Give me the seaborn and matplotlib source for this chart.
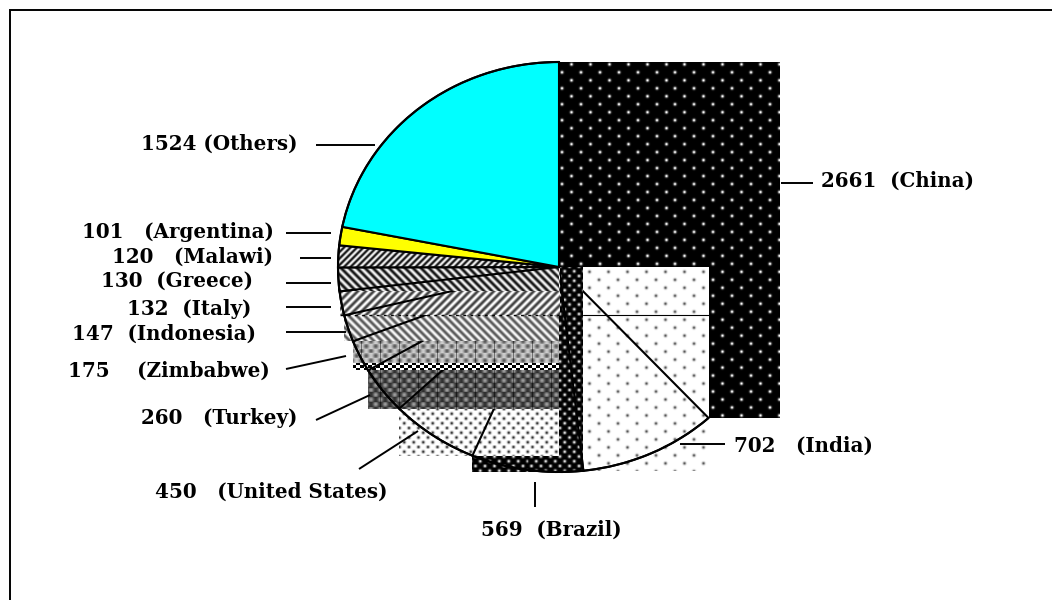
import matplotlib
matplotlib.use("Agg")
import matplotlib.pyplot as plt
from matplotlib.patches import Arc
import numpy as np
import seaborn as sns

# values, clockwise from 12 o'clock
countries = ["China", "India", "Brazil", "United States", "Turkey", "Zimbabwe",
             "Indonesia", "Italy", "Greece", "Malawi", "Argentina", "Others"]
values = [2661, 702, 569, 450, 260, 175, 147, 132, 130, 120, 101, 1524]
gaps = ["  ", "   ", "  ", "   ", "   ", "    ", "  ", "  ", "  ", "   ", "   ", " "]

# kind, base grey, mark grey, period (None = plain slice colour)
fills = [
    ("dots", 0.0, 1.0, 19.0),
    ("dots", 1.0, 0.35, 19.0),
    ("dots", 0.0, 0.9, 9.5),
    ("dots", 1.0, 0.2, 9.5),
    ("grid", 0.17, 0.62, 9.5),
    ("grid", 0.82, 0.35, 9.5),
    ("back", 0.97, 0.35, 8.0),
    ("fwd", 1.0, 0.25, 8.0),
    ("back", 0.95, 0.08, 8.0),
    ("fwd", 0.95, 0.08, 6.5),
    None,
    None,
]
slice_colors = {"Argentina": "#ffff00", "Others": "#00ffff"}

# label left edge / middle, in reference pixels
label_pos = [(821, 181), (734, 446), (481, 530), (155, 492), (141, 418), (68, 371),
             (72, 334), (127, 309), (101, 281), (112, 257), (82, 232), (141, 144)]
leaders = [((781, 183), (813, 183)), ((680, 444), (725, 444)), ((535, 482), (535, 507)),
           ((359, 469), (418, 431)), ((316, 420), (370, 395)), ((286, 369), (346, 356)),
           ((286, 332), (346, 332)), ((286, 307), (331, 307)), ((286, 283), (331, 283)),
           ((300, 258), (331, 258)), ((286, 233), (331, 233)), ((316, 145), (375, 145))]

W, H = 1052, 600
cx, cy, rx, ry = 559, 267, 221, 205


def texture(kind, base, mark, period, xs, ys):
    # old screen-dither look, aligned to the picture's pixels
    x, y = np.meshgrid(xs, ys)
    if kind in ("fwd", "back"):
        sign = 1 if kind == "fwd" else -1
        wave = 0.5 + 0.5 * np.cos(2 * np.pi * (x + sign * y) / period)
        return base + (mark - base) * wave
    row_h = period * 0.42 if kind == "dots" and period > 10 else period / 2
    rows = np.round(y / row_h)
    shift = (rows % 2) * period / 2
    dx = (x - shift + period / 2) % period - period / 2
    dy = y - rows * row_h
    sigma = 1.1 if kind == "dots" else 1.9
    g = np.exp(-(dx ** 2 + dy ** 2) / (2 * sigma ** 2))
    out = base + (mark - base) * g
    if kind == "grid":
        # faint vertical seams of the tile
        out = np.where((x.astype(int) % 19) == 0, out * 0.55, out)
    return out


sns.set_theme(style="white")
plt.rcParams["font.family"] = ["DejaVu Serif"]

fig = plt.figure(figsize=(W / 100, H / 100), dpi=100)
ax = fig.add_axes([(cx - 1.25 * rx) / W, 1 - (cy + 1.25 * ry) / H, 2.5 * rx / W, 2.5 * ry / H])
wedges, _ = ax.pie(values, startangle=90, counterclock=False, radius=1,
                   wedgeprops=dict(edgecolor="black", linewidth=1.5))
xlim, ylim = ax.get_xlim(), ax.get_ylim()

# every slice paints its whole bounding box, then the next one paints over it
boxes = {}
for i, (w, fill) in enumerate(zip(wedges, fills)):
    w.set_zorder(2 * i + 3)
    if fill is None:
        w.set_facecolor(slice_colors[countries[i]])
        continue
    w.set_facecolor("none")
    box = w.get_path().get_extents(w.get_patch_transform())
    boxes[countries[i]] = box
    xs = np.arange(np.floor(cx + rx * box.x0), np.ceil(cx + rx * box.x1))
    ys = np.arange(np.floor(cy - ry * box.y1), np.ceil(cy - ry * box.y0))
    kind, base, mark, period = fill
    img = texture(kind, base, mark, period, xs, ys)
    if countries[i] == "Zimbabwe":
        # black and white checks along the bottom of this band
        x, y = np.meshgrid(xs, ys)
        check = ((x // 4 + y // 3) % 2).astype(float)
        img = np.where(y >= ys[-1] - 6, check, img)
    ax.imshow(img, extent=(box.x0, box.x1, box.y0, box.y1), cmap="gray", vmin=0, vmax=1,
              aspect="auto", interpolation="nearest", zorder=2 * i + 2)

ax.set_xlim(xlim)
ax.set_ylim(ylim)
ax.set_aspect("auto")

# the China slice has no visible outline, the rim of all the others stays on top
wedges[0].set_linewidth(0)
ax.add_patch(Arc((0, 0), 2, 2, theta1=wedges[0].theta2, theta2=wedges[0].theta1 + 360,
                 edgecolor="black", linewidth=1.5, zorder=60))
line_y = boxes["Italy"].y0
ax.plot([boxes["Brazil"].x1, boxes["India"].x1], [line_y, line_y], color="black", lw=0.8, zorder=61)
ax.plot([boxes["Italy"].x0, 0], [line_y, line_y], color="black", lw=1.0, ls=(0, (2, 3.2)), zorder=61)
sns.despine(ax=ax, left=True, bottom=True)

ov = fig.add_axes([0, 0, 1, 1])
ov.set_xlim(0, W)
ov.set_ylim(H, 0)
ov.axis("off")
ov.patch.set_alpha(0)

for name, v, gap, (x, y), (p0, p1) in zip(countries, values, gaps, label_pos, leaders):
    ov.text(x, y, f"{v}{gap}({name})", ha="left", va="center", fontsize=14.3,
            fontweight="bold", color="black")
    ov.plot([p0[0], p1[0]], [p0[1], p1[1]], color="black", lw=1.4, solid_capstyle="butt")

# outer frame runs off the right and bottom of the picture
ov.plot([W, 9.5, 9.5], [9.5, 9.5, H], color="black", lw=1.4, solid_joinstyle="miter")

fig.savefig("out.png", dpi=100)
